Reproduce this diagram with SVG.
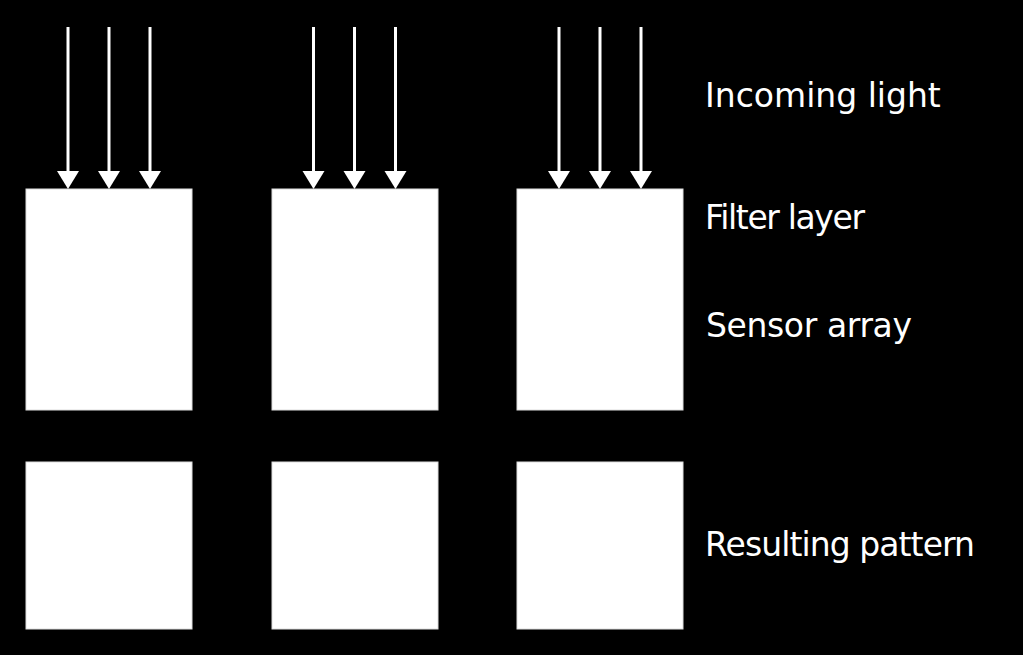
<svg xmlns="http://www.w3.org/2000/svg" width="1023" height="655" viewBox="0 0 1023 655">
<defs>
<style>
.box{fill:#fff;stroke:#ddd;stroke-width:1}
.ray{stroke:#fff;stroke-width:3;fill:none}
.head{fill:#fff}
.lbl{font-family:"DejaVu Sans",sans-serif;font-size:33px;fill:#fff}
</style>
</defs>
<rect width="1023" height="655" fill="#000"/>
<g id="connectors">
<g id="rays-1">
<line class="ray" x1="68" y1="27" x2="68" y2="172"/><polygon class="head" points="57,171 79,171 68,189"/>
<line class="ray" x1="109" y1="27" x2="109" y2="172"/><polygon class="head" points="98,171 120,171 109,189"/>
<line class="ray" x1="150" y1="27" x2="150" y2="172"/><polygon class="head" points="139,171 161,171 150,189"/>
</g>
<g id="rays-2">
<line class="ray" x1="313.5" y1="27" x2="313.5" y2="172"/><polygon class="head" points="302.5,171 324.5,171 313.5,189"/>
<line class="ray" x1="354.5" y1="27" x2="354.5" y2="172"/><polygon class="head" points="343.5,171 365.5,171 354.5,189"/>
<line class="ray" x1="395.5" y1="27" x2="395.5" y2="172"/><polygon class="head" points="384.5,171 406.5,171 395.5,189"/>
</g>
<g id="rays-3">
<line class="ray" x1="559" y1="27" x2="559" y2="172"/><polygon class="head" points="548,171 570,171 559,189"/>
<line class="ray" x1="600" y1="27" x2="600" y2="172"/><polygon class="head" points="589,171 611,171 600,189"/>
<line class="ray" x1="641" y1="27" x2="641" y2="172"/><polygon class="head" points="630,171 652,171 641,189"/>
</g>
</g>
<g id="sensor-1"><rect class="box" x="26" y="189" width="166" height="221"/></g>
<g id="sensor-2"><rect class="box" x="272" y="189" width="166" height="221"/></g>
<g id="sensor-3"><rect class="box" x="517" y="189" width="166" height="221"/></g>
<g id="pattern-1"><rect class="box" x="26" y="462" width="166" height="167"/></g>
<g id="pattern-2"><rect class="box" x="272" y="462" width="166" height="167"/></g>
<g id="pattern-3"><rect class="box" x="517" y="462" width="166" height="167"/></g>
<g id="labels">
<text class="lbl" x="705" y="107">Incoming light</text>
<text class="lbl" x="705" y="229" textLength="160" lengthAdjust="spacing">Filter layer</text>
<text class="lbl" x="706" y="337" textLength="206" lengthAdjust="spacing">Sensor array</text>
<text class="lbl" x="705" y="556" textLength="270" lengthAdjust="spacing">Resulting pattern</text>
</g>
</svg>
